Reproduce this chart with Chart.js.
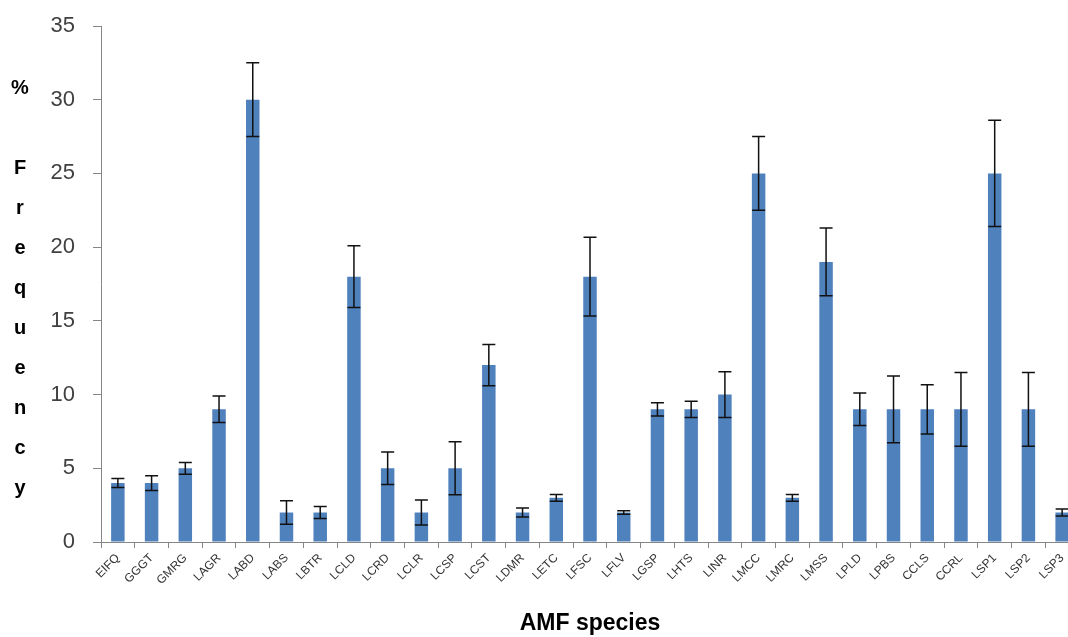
<!DOCTYPE html>
<html>
<head>
<meta charset="utf-8">
<title>AMF species frequency</title>
<script src="https://cdn.jsdelivr.net/npm/chart.js@4.4.0/dist/chart.umd.min.js"></script>
<style>
    html, body { margin: 0; padding: 0; background: #fff; overflow: hidden; }
    #wrap { position: relative; width: 1090px; height: 637px; }
</style>
</head>
<body>
<div id="wrap">
    <canvas id="freqChart"></canvas>
</div>
<script>
// Data
const species = ['EIFQ', 'GGGT', 'GMRG', 'LAGR', 'LABD', 'LABS', 'LBTR', 'LCLD', 'LCRD', 'LCLR',
    'LCSP', 'LCST', 'LDMR', 'LETC', 'LFSC', 'LFLV', 'LGSP', 'LHTS', 'LINR', 'LMCC',
    'LMRC', 'LMSS', 'LPLD', 'LPBS', 'CCLS', 'CCRL', 'LSP1', 'LSP2', 'LSP3'];
const frequency = [4, 4, 5, 9, 30, 2, 2, 18, 5, 2,
    5, 12, 2, 3, 18, 2, 9, 9, 10, 25,
    3, 19, 9, 9, 9, 9, 25, 9, 2];
const errors = [0.3, 0.5, 0.4, 0.9, 2.5, 0.8, 0.4, 2.1, 1.1, 0.85,
    1.8, 1.4, 0.3, 0.23, 2.67, 0.12, 0.45, 0.55, 1.55, 2.5,
    0.23, 2.3, 1.1, 2.26, 1.67, 2.5, 3.6, 2.5, 0.23];
const yTicks = [0, 5, 10, 15, 20, 25, 30, 35];
const yTitleLines = ['%', '', 'F', 'r', 'e', 'q', 'u', 'e', 'n', 'c', 'y'];

// Error bars drawn from the value scale
const errorBarPlugin = {
    id: 'errorBars',
    afterDatasetsDraw(chart) {
        const ctx = chart.ctx;
        const yScale = chart.scales.y;
        const meta = chart.getDatasetMeta(0);
        ctx.save();
        ctx.strokeStyle = '#111';
        ctx.lineWidth = 1.5;
        meta.data.forEach((bar, i) => {
            const x = bar.x;
            const top = yScale.getPixelForValue(frequency[i] + errors[i]);
            const bot = yScale.getPixelForValue(frequency[i] - errors[i]);
            const half = 6.5;
            ctx.beginPath();
            ctx.moveTo(x, top); ctx.lineTo(x, bot);
            ctx.moveTo(x - half, top); ctx.lineTo(x + half, top);
            ctx.moveTo(x - half, bot); ctx.lineTo(x + half, bot);
            ctx.stroke();
        });
        ctx.restore();
    }
};

// Stacked letters of the value-axis title, left of the tick labels
const yTitlePlugin = {
    id: 'stackedTitle',
    afterDraw(chart) {
        const ctx = chart.ctx;
        ctx.save();
        ctx.fillStyle = '#000';
        ctx.font = 'bold 20px Arial, sans-serif';
        ctx.textAlign = 'center';
        ctx.textBaseline = 'middle';
        yTitleLines.forEach((ch, i) => {
            if (ch) ctx.fillText(ch, 20, 88 + i * 40);
        });
        ctx.restore();
    }
};

const axisGrey = '#868686';

new Chart(document.getElementById('freqChart'), {
    type: 'bar',
    data: {
        labels: species,
        datasets: [{
            data: frequency,
            backgroundColor: '#4F81BD',
            categoryPercentage: 1,
            barPercentage: 0.4
        }]
    },
    plugins: [errorBarPlugin, yTitlePlugin],
    options: {
        responsive: true,
        maintainAspectRatio: false,
        animation: false,
        layout: { padding: { top: 26, right: 11, bottom: 0, left: 0 } },
        plugins: {
            legend: { display: false },
            tooltip: { enabled: false }
        },
        scales: {
            x: {
                offset: true,
                grid: {
                    offset: true,
                    drawOnChartArea: false,
                    tickLength: 6,
                    color: axisGrey
                },
                border: { color: axisGrey, width: 1 },
                ticks: {
                    minRotation: 45,
                    maxRotation: 45,
                    autoSkip: false,
                    padding: 3,
                    color: '#333',
                    font: { size: 12 }
                },
                title: {
                    display: true,
                    text: 'AMF species',
                    color: '#000',
                    padding: { top: 0, bottom: 0 },
                    font: { size: 23, weight: 'bold' }
                },
                afterFit(scale) { scale.height = 95; }
            },
            y: {
                min: 0,
                max: 35,
                afterBuildTicks(scale) { scale.ticks = yTicks.map(v => ({ value: v })); },
                grid: {
                    drawOnChartArea: false,
                    tickLength: 8,
                    color: axisGrey
                },
                border: { color: axisGrey, width: 1 },
                ticks: {
                    padding: 18,
                    color: '#404040',
                    font: { size: 22 }
                },
                afterFit(scale) {
                    scale.width = 101;
                    scale.paddingTop = 0;
                    scale.paddingBottom = 0;
                }
            }
        }
    }
});
</script>
</body>
</html>
